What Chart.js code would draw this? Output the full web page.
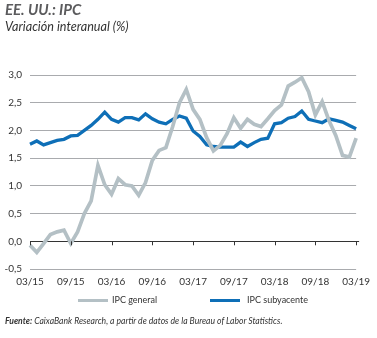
<!DOCTYPE html>
<html><head><meta charset="utf-8">
<script src="https://cdn.jsdelivr.net/npm/chart.js@4/dist/chart.umd.min.js"></script>
<style>
html,body{margin:0;padding:0;background:#fff;}
#wrap{position:relative;width:377px;height:338px;overflow:hidden;font-family:"Lato","Open Sans",sans-serif;}
#c{position:absolute;left:0;top:0;}
.t{position:absolute;white-space:nowrap;}
#title{left:5px;top:0px;font-size:15px;font-weight:bold;font-style:italic;color:#5b5b5d;}
#sub{left:5px;top:19px;font-size:12.6px;font-style:italic;color:#333;}
.lg{position:absolute;height:3px;width:30px;top:299px;}
.lt{position:absolute;top:294px;font-size:9px;color:#333;}
#src{left:5px;top:316px;font-size:8.6px;font-style:italic;color:#333;}
</style></head>
<body><div id="wrap">
<canvas id="c" width="377" height="300"></canvas>
<div class="t" id="title">EE. UU.: IPC</div>
<div class="t" id="sub">Variación interanual (%)</div>
<div class="lg" style="left:78px;background:#b4c0c5"></div><div class="lt" style="left:112px">IPC general</div>
<div class="lg" style="left:210px;background:#0e6fb7"></div><div class="lt" style="left:247px">IPC subyacente</div>
<div class="t" id="src"><b>Fuente:</b> CaixaBank Research, a partir de datos de la Bureau of Labor Statistics.</div>
</div>
<script>
const months = [];
for (let y = 15; y <= 19; y++) for (let m = 1; m <= 12; m++) {
  if ((y === 15 && m < 3) || (y === 19 && m > 3)) continue;
  months.push(String(m).padStart(2,'0') + '/' + y);
}
const tickLabels = ['03/15','09/15','03/16','09/16','03/17','09/17','03/18','09/18','03/19'];
const ipcGeneral = [-0.07,-0.2,-0.04,0.12,0.17,0.2,-0.04,0.17,0.5,0.73,
  1.37,1.02,0.85,1.13,1.02,1.0,0.83,1.06,1.46,1.64,1.69,2.07,
  2.5,2.74,2.38,2.2,1.87,1.63,1.73,1.94,2.23,2.04,2.2,2.11,
  2.07,2.21,2.36,2.46,2.8,2.87,2.95,2.7,2.28,2.52,2.18,1.91,
  1.55,1.52,1.86];
const ipcSubyacente = [1.75,1.81,1.74,1.78,1.82,1.84,1.9,1.91,2.0,2.09,
  2.2,2.33,2.2,2.15,2.23,2.23,2.19,2.3,2.21,2.15,2.12,2.2,
  2.26,2.22,1.99,1.89,1.74,1.71,1.7,1.7,1.7,1.79,1.71,1.78,
  1.84,1.86,2.12,2.14,2.22,2.25,2.35,2.2,2.17,2.14,2.21,2.18,
  2.15,2.09,2.03];
const yTicks = [-0.5,0,0.5,1,1.5,2,2.5,3];

const zeroTicks = {
  id:'zeroTicks',
  afterDatasetsDraw(chart){
    const x = chart.scales.x, y = chart.scales.y, ctx = chart.ctx;
    const y0 = y.getPixelForValue(0);
    ctx.save();
    ctx.strokeStyle = '#333'; ctx.lineWidth = 1;
    months.forEach((m,i)=>{
      if (!tickLabels.includes(m)) return;
      const px = Math.round(x.getPixelForValue(i)) + 0.5;
      ctx.beginPath(); ctx.moveTo(px, y0); ctx.lineTo(px, y0 + 4); ctx.stroke();
    });
    ctx.restore();
  },
  beforeDatasetsDraw(chart){
    const y = chart.scales.y, ctx = chart.ctx;
    const y0 = Math.round(y.getPixelForValue(0)) + 0.5;
    ctx.save();
    ctx.strokeStyle = '#333'; ctx.lineWidth = 1;
    ctx.beginPath(); ctx.moveTo(chart.chartArea.left, y0); ctx.lineTo(chart.chartArea.right + 3, y0); ctx.stroke();
    ctx.restore();
  }
};

new Chart(document.getElementById('c'), {
  type:'line',
  data:{labels:months, datasets:[
    {label:'IPC general', data:ipcGeneral, borderColor:'#b4c0c5', borderWidth:3.7, pointRadius:0, tension:0},
    {label:'IPC subyacente', data:ipcSubyacente, borderColor:'#0e6fb7', borderWidth:3.3, pointRadius:0, tension:0}
  ]},
  options:{
    responsive:false, animation:false, events:[],
    layout:{padding:{top:75,right:15,bottom:5,left:0}},
    plugins:{legend:{display:false}, tooltip:{enabled:false}},
    scales:{
      x:{
        offset:false,
        grid:{display:false, drawTicks:false},
        border:{display:false},
        ticks:{autoSkip:false, maxRotation:0, padding:7, color:'#333', font:{family:'Lato', size:10},
          callback:(v,i)=> tickLabels.includes(months[i]) ? months[i] : null}
      },
      y:{
        min:-0.5, max:3,
        afterBuildTicks:(s)=>{ s.ticks = yTicks.map(v=>({value:v})); },
        afterFit:(s)=>{ s.width = 30; },
        grid:{color:(c)=> c.tick && c.tick.value === 0 ? 'rgba(0,0,0,0)' : '#a9abae', drawTicks:false, lineWidth:1},
        border:{display:false},
        ticks:{padding:8, color:'#333', font:{family:'Lato', size:10},
          callback:(v)=> v.toFixed(1).replace('.',',')}
      }
    }
  },
  plugins:[zeroTicks]
});
</script>
</body></html>
